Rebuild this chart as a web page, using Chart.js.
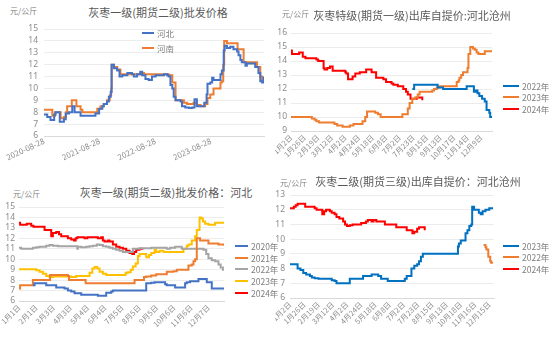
<!DOCTYPE html>
<html>
<head>
<meta charset="utf-8">
<script src="https://cdn.jsdelivr.net/npm/chart.js@4.4.1/dist/chart.umd.min.js"></script>
<style>
  body { margin: 0; width: 550px; height: 339px; background: #fff; position: relative; overflow: hidden;
         font-family: "Noto Sans CJK SC", "Noto Sans", sans-serif; }
  .panel { position: absolute; }
  .title { position: absolute; font-size: 11px; line-height: 1; color: #595959; white-space: nowrap; transform: translateX(-50%); }
  .unit { position: absolute; font-size: 8px; line-height: 1; color: #7f7f7f; white-space: nowrap; }
  .legend { position: absolute; font-size: 8.5px; color: #7f7f7f; white-space: nowrap; }
  .legend div { display: flex; align-items: center; }
  .legend span { display: inline-block; height: 2px; margin-right: 3px; }
</style>
</head>
<body>

<div class="unit" style="left:10px;top:7px">元/公斤</div>
<div class="title" style="left:158px;top:7px">灰枣一级(期货二级)批发价格</div>
<div class="panel" style="left:0;top:0"><canvas id="c1" width="275" height="170"></canvas></div>
<div class="legend" id="lg1" style="left:142px;top:25px"></div>

<div class="unit" style="left:282px;top:10px">元/公斤</div>
<div class="title" style="left:412px;top:10px">灰枣特级(期货一级)出库自提价:河北沧州</div>
<div class="panel" style="left:275px;top:0"><canvas id="c2" width="275" height="170"></canvas></div>
<div class="legend" id="lg2" style="left:503px;top:80px"></div>

<div class="unit" style="left:13px;top:190px">元/公斤</div>
<div class="title" style="left:166px;top:187px">灰枣一级(期货二级)批发价格：河北</div>
<div class="panel" style="left:0;top:170px"><canvas id="c3" width="275" height="169"></canvas></div>
<div class="legend" id="lg3" style="left:235px;top:240px"></div>

<div class="unit" style="left:280px;top:179px">元/公斤</div>
<div class="title" style="left:418px;top:176px">灰枣二级(期货三级)出库自提价：河北沧州</div>
<div class="panel" style="left:275px;top:170px"><canvas id="c4" width="275" height="169"></canvas></div>
<div class="legend" id="lg4" style="left:503px;top:240px"></div>

<script>
// ---- 批发价格 河北/河南 (x = months since 2020-08-28) ----
const wholesaleTicks = ['2020-08-28', '2021-08-28', '2022-08-28', '2023-08-28'];
const hebei = [[0,7.8],[0.7,7.6],[1.4,7.35],[2.2,7.8],[2.5,8.0],[3.4,7.2],[4.3,7.4],[4.7,7.9],[5.4,8.0],[6.1,8.5],
  [6.6,8.0],[7.9,7.7],[11.1,7.9],[11.9,8.3],[12.6,8.5],[12.9,8.7],[13.6,8.9],[14.0,9.3],[14.4,9.7],[14.6,12.0],
  [15.1,11.7],[15.8,11.5],[16.3,11.0],[16.9,11.1],[18.0,11.3],[19.0,11.2],[19.4,11.0],[20.1,11.2],[20.8,11.4],
  [21.2,11.1],[21.9,10.8],[22.6,10.7],[23.3,11.0],[24.1,11.1],[25.9,11.2],[26.6,11.1],[26.9,11.0],[27.3,10.3],
  [27.7,10.0],[28.0,9.3],[28.4,9.0],[29.5,8.9],[29.8,8.5],[30.5,8.4],[31.3,8.35],[32.0,8.4],[32.5,9.1],[33.0,8.5],
  [34.6,8.8],[35.1,9.5],[35.3,10.4],[35.9,10.5],[36.3,10.9],[36.6,10.7],[37.7,10.7],[38.1,11.2],[38.4,11.5],
  [38.8,13.2],[39.0,13.6],[39.5,13.4],[40.2,13.5],[40.9,13.3],[41.7,13.1],[42.0,12.8],[42.4,12.4],[42.7,12.2],
  [43.5,11.9],[43.8,12.1],[45.6,11.8],[46.3,11.3],[46.7,10.6],[47.1,10.5],[47.4,11.0]];
const henan = [[0,8.2],[1.8,7.7],[2.4,8.0],[3.6,7.5],[4.3,7.6],[4.7,8.0],[5.0,8.5],[6.0,9.0],[7.0,8.5],[7.9,8.2],
  [8.3,8.0],[11.5,8.3],[12.2,8.5],[12.9,8.7],[13.6,9.0],[14.2,9.4],[14.5,10.0],[14.6,12.0],[15.1,11.8],[15.8,11.6],
  [16.5,11.2],[20.8,11.3],[21.6,11.2],[26.9,11.1],[27.7,10.5],[28.4,9.0],[30.2,8.8],[30.9,8.7],[32.3,8.8],[33.0,8.6],
  [33.8,8.5],[34.8,8.7],[35.3,9.2],[35.9,9.5],[36.6,10.0],[38.1,10.5],[38.4,10.6],[38.7,12.0],[38.9,14.0],[39.5,13.8],
  [41.8,13.3],[43.1,12.2],[46.0,11.8],[46.7,11.0],[47.1,10.6],[47.4,10.9]];

// ---- 特级出库自提价 河北沧州 (x = trading-day index) ----
const specialTicks = ['1月2日','1月26日','2月19日','3月12日','4月2日','4月24日','5月18日','6月8日',
  '7月2日','7月23日','8月15日','9月13日','10月17日','11月14日','12月9日'];
const special2022 = [[134,12.0],[136,12.3],[162,12.1],[168,12.0],[194,12.2],[202,11.8],[204,11.9],[206,11.7],
  [208,11.5],[211,11.3],[214,11.1],[216,10.5],[219,10.3],[220,10.0],[222,10.0]];
const special2023 = [[0,10.0],[23,9.9],[26,9.8],[28,9.7],[31,9.6],[48,9.5],[51,9.4],[57,9.3],[65,9.4],[69,9.5],
  [79,9.7],[82,10.0],[84,10.4],[93,10.3],[96,10.2],[99,10.0],[123,10.2],[129,10.6],[131,11.0],[134,11.3],[137,11.4],
  [140,11.6],[142,11.8],[156,11.9],[158,12.0],[161,12.1],[164,12.2],[183,12.5],[185,12.6],[186,12.8],[188,13.0],
  [190,13.2],[195,13.5],[196,14.5],[198,15.0],[201,14.9],[203,14.8],[205,14.6],[207,14.5],[214,14.7],[222,14.7]];
const special2024 = [[0,14.75],[1,14.5],[9,14.6],[13,14.3],[16,14.2],[28,14.1],[30,14.0],[36,13.5],[37,13.4],
  [40,13.5],[43,13.6],[46,13.3],[60,13.2],[61,13.1],[63,12.7],[68,12.9],[71,13.1],[76,13.2],[83,13.4],[89,13.2],
  [94,12.8],[102,12.7],[105,12.5],[111,12.4],[113,12.3],[118,12.2],[124,12.0],[127,11.8],[129,11.6],[132,11.3],
  [139,11.4],[145,11.2]];

// ---- 一级批发价格 河北, 分年 (x = day of year) ----
const hebeiTicks = ['1月1日','2月1日','3月3日','4月3日','5月4日','6月4日','7月5日','8月5日','9月5日',
  '10月6日','11月6日','12月7日'];
const hebei2020 = [[25,7.5],[28,7.7],[49,7.5],[67,7.3],[82,7.2],[88,7.0],[94,6.9],[100,6.75],[112,6.6],[142,6.5],
  [157,6.8],[166,6.9],[169,7.0],[229,7.7],[238,7.75],[244,7.8],[263,7.6],[266,7.5],[281,7.3],[299,7.7],[302,7.8],
  [308,7.9],[323,8.1],[338,7.8],[347,7.2],[369,7.2]];
const hebei2021 = [[0,7.2],[2,7.5],[25,8.0],[56,8.5],[88,8.4],[90,8.0],[120,7.7],[208,8.0],[225,8.3],[229,8.35],
  [238,8.45],[247,8.55],[266,8.8],[278,8.85],[284,9.0],[305,9.4],[311,9.5],[314,9.8],[317,10.0],[320,12.0],
  [326,11.8],[341,11.5],[359,11.4],[369,11.3]];
const hebei2022 = [[0,11.1],[4,11.0],[25,11.1],[31,11.15],[37,11.2],[49,11.3],[55,11.35],[61,11.3],[70,11.25],
  [105,11.0],[106,11.2],[112,11.15],[121,11.2],[127,11.25],[133,11.3],[140,11.4],[145,11.35],[151,11.25],[157,11.2],
  [163,11.1],[169,11.0],[175,10.9],[181,10.8],[187,10.7],[205,11.0],[217,11.05],[238,11.1],[266,11.0],[272,11.1],
  [281,11.2],[293,11.0],[332,10.9],[337,10.5],[341,10.1],[347,9.9],[353,9.8],[359,9.5],[363,9.2],[367,9.0],[369,9.0]];
const hebei2023 = [[0,9.05],[31,8.95],[37,8.8],[43,8.6],[49,8.4],[55,8.3],[61,8.35],[94,8.3],[103,8.4],[121,8.4],
  [127,8.7],[132,9.1],[136,9.25],[141,9.1],[145,8.8],[151,8.6],[157,8.5],[192,8.7],[196,8.75],[201,9.0],[205,9.3],
  [210,9.6],[214,10.3],[217,10.5],[229,10.2],[234,10.4],[238,10.6],[244,10.9],[247,10.7],[253,10.8],[260,10.7],
  [296,11.0],[302,11.3],[305,11.4],[311,11.8],[317,12.2],[320,12.8],[325,14.0],[328,13.9],[331,13.6],[335,13.4],
  [341,13.3],[353,13.5],[369,13.5]];
const hebei2024 = [[0,13.5],[2,13.3],[14,13.4],[22,13.2],[26,13.1],[46,12.8],[58,12.2],[61,12.5],[67,12.6],
  [72,12.4],[76,12.2],[88,12.0],[94,11.9],[99,11.8],[102,12.0],[105,12.1],[118,12.0],[123,12.1],[142,12.0],
  [148,12.1],[151,11.8],[154,11.7],[160,11.8],[163,11.7],[169,11.4],[175,11.2],[181,11.1],[187,11.0],[193,10.8],
  [199,10.6],[204,10.5],[207,10.7],[211,10.9],[217,11.0],[222,10.9]];

// ---- 二级出库自提价 河北沧州 (x = trading-day index) ----
const gradeTwoTicks = ['1月2日','1月26日','2月19日','3月12日','4月2日','4月24日','5月18日','6月8日',
  '7月2日','7月23日','8月15日','9月13日','10月18日','11月16日','12月15日'];
const gradeTwo2023 = [[0,8.3],[8,8.0],[11,7.9],[14,7.7],[17,7.6],[21,7.5],[23,7.4],[26,7.35],[30,7.3],[44,7.2],
  [47,7.15],[49,7.0],[63,7.3],[77,7.5],[86,7.6],[93,7.5],[96,7.3],[103,7.15],[121,7.3],[123,7.5],[128,8.0],
  [131,8.2],[134,8.3],[136,8.5],[138,8.8],[140,9.0],[177,9.5],[178,9.7],[180,9.9],[185,10.4],[187,10.6],[189,10.9],
  [191,11.0],[192,12.2],[194,12.0],[199,11.8],[201,11.7],[203,11.9],[206,12.0],[210,12.1],[214,12.1]];
const gradeTwo2022 = [[204,9.6],[206,9.45],[207,9.3],[209,8.8],[211,8.5],[212,8.4],[214,8.4]];
const gradeTwo2024 = [[0,12.1],[4,12.2],[6,12.3],[8,12.4],[16,12.2],[26,12.1],[28,12.0],[34,11.7],[36,11.9],
  [38,12.0],[42,11.9],[44,11.8],[47,11.7],[49,11.5],[52,11.4],[56,11.2],[58,11.0],[60,10.9],[63,10.95],[66,11.0],
  [75,11.1],[80,11.2],[82,11.3],[86,11.2],[88,11.3],[91,11.2],[100,11.0],[112,10.8],[123,10.6],[129,10.4],
  [131,10.5],[134,10.7],[136,10.8],[142,10.6]];

const BLUE = '#4472C4', ORANGE = '#ED7D31', GRAY = '#A5A5A5', YELLOW = '#FFC000', RED = '#FF0000', DBLUE = '#0070C0';
const tickColor = '#8c8c8c';

function series(label, pts, color) {
  return {
    label, borderColor: color, backgroundColor: color,
    data: pts.map(p => ({ x: p[0], y: p[1] })),
    borderWidth: 2, pointRadius: 0, stepped: true, fill: false
  };
}

function buildLegend(id, datasets, lineW, rowH) {
  const el = document.getElementById(id);
  datasets.forEach(ds => {
    const row = document.createElement('div');
    row.style.height = rowH + 'px';
    row.innerHTML = '<span style="width:' + lineW + 'px;background:' + ds.borderColor + '"></span>' + ds.label;
    el.appendChild(row);
  });
}

// area = chart area inside the canvas, fixed by padding + forced axis sizes
function makeChart(id, datasets, area, x, y) {
  const cv = document.getElementById(id);
  const W = cv.width, H = cv.height;
  const yw = 20, xh = 30;
  return new Chart(cv, {
    type: 'line',
    data: { datasets },
    options: {
      responsive: false, animation: false,
      layout: { padding: { left: area.left - yw, top: area.top, right: W - area.right, bottom: H - area.bottom - xh } },
      plugins: { legend: { display: false }, tooltip: { enabled: false } },
      scales: {
        x: {
          type: 'linear', min: x.min, max: x.max,
          grid: { display: false, drawTicks: false },
          border: { display: true, color: '#d9d9d9', width: 1 },
          ticks: {
            stepSize: x.step, autoSkip: false, includeBounds: false,
            minRotation: x.rot, maxRotation: x.rot, padding: x.pad,
            color: tickColor, font: { size: x.size, family: '"Noto Sans CJK SC", "Noto Sans", sans-serif' },
            callback: v => x.labels[Math.round(v / x.step)] ?? ''
          },
          afterFit: s => { s.height = xh; s.paddingLeft = 0; s.paddingRight = 0; }
        },
        y: {
          min: y.min, max: y.max,
          grid: { color: '#ececec', drawTicks: false },
          border: { display: false },
          ticks: { stepSize: 1, autoSkip: false, padding: y.pad, color: tickColor,
                   font: { size: 8.5, family: '"Noto Sans", sans-serif' } },
          afterFit: s => { s.width = yw; s.paddingTop = 0; s.paddingBottom = 0; }
        }
      }
    }
  });
}

// 批发价格 河北/河南
const ds1 = [series('河北', hebei, BLUE), series('河南', henan, ORANGE)];
makeChart('c1', ds1, { left: 44, right: 264, top: 29, bottom: 136 },
  { min: 0, max: 47.5, step: 12, rot: 25, size: 8, pad: 0, labels: wholesaleTicks }, { min: 6, max: 15, pad: 6 });
buildLegend('lg1', ds1, 12, 15);

// 特级出库自提价
const ds2 = [series('2022年', special2022, DBLUE), series('2023年', special2023, ORANGE), series('2024年', special2024, RED)];
makeChart('c2', ds2, { left: 16, right: 217, top: 33, bottom: 131 },
  { min: 0, max: 222, step: 15, rot: 45, size: 7.5, pad: 2, labels: specialTicks }, { min: 9, max: 16, pad: 4 });
buildLegend('lg2', ds2, 16, 11.5);

// 一级批发价格 河北 分年
const ds3 = [series('2020年', hebei2020, BLUE), series('2021年', hebei2021, ORANGE), series('2022年', hebei2022, GRAY),
  series('2023年', hebei2023, YELLOW), series('2024年', hebei2024, RED)];
makeChart('c3', ds3, { left: 19, right: 224, top: 37, bottom: 131 },
  { min: 0, max: 369, step: 31, rot: 45, size: 7.5, pad: 2, labels: hebeiTicks }, { min: 6, max: 15, pad: 4 });
buildLegend('lg3', ds3, 13, 11.7);

// 二级出库自提价
const ds4 = [series('2023年', gradeTwo2023, DBLUE), series('2022年', gradeTwo2022, ORANGE), series('2024年', gradeTwo2024, RED)];
makeChart('c4', ds4, { left: 15, right: 219, top: 25, bottom: 128 },
  { min: 0, max: 215, step: 15, rot: 45, size: 7.5, pad: 2, labels: gradeTwoTicks }, { min: 6, max: 13, pad: 5 });
buildLegend('lg4', ds4, 16, 11.5);
</script>
</body>
</html>
